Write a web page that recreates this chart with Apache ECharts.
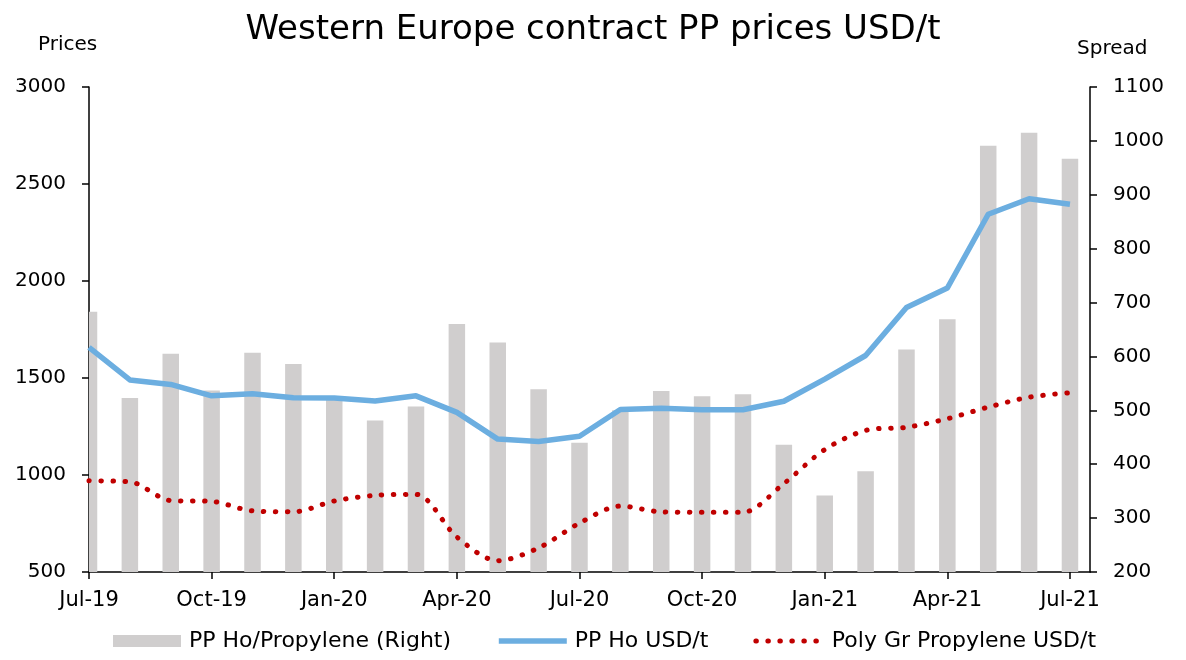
<!DOCTYPE html>
<html>
<head>
<meta charset="utf-8">
<script src="https://cdn.jsdelivr.net/npm/echarts@6/dist/echarts.min.js"></script>
<style>
  html, body { margin: 0; padding: 0; background: #fff; }
  #chart { width: 1186px; height: 660px; }
</style>
</head>
<body>
<div id="chart"></div>
<script>
  // monthly points, Jul-19 .. Jul-21
  var months = ['Jul-19', 'Aug-19', 'Sep-19', 'Oct-19', 'Nov-19', 'Dec-19', 'Jan-20', 'Feb-20', 'Mar-20',
    'Apr-20', 'May-20', 'Jun-20', 'Jul-20', 'Aug-20', 'Sep-20', 'Oct-20', 'Nov-20', 'Dec-20',
    'Jan-21', 'Feb-21', 'Mar-21', 'Apr-21', 'May-21', 'Jun-21', 'Jul-21']
  var tickMonths = [0, 3, 6, 9, 12, 15, 18, 21, 24]

  var spread = [683, 523, 605, 537, 607, 586, 520, 481, 507, 660, 626, 539, 440,
    500, 536, 526, 530, 436, 342, 387, 613, 669, 991, 1015, 967]
  var ppHo = [1658, 1490, 1467, 1408, 1419, 1398, 1397, 1381, 1408, 1323, 1185, 1173, 1200,
    1338, 1344, 1336, 1336, 1380, 1494, 1616, 1863, 1964, 2344, 2424, 2396]
  var propylene = [970, 965, 868, 864, 815, 810, 866, 895, 900, 680, 558, 624, 752,
    840, 810, 808, 808, 956, 1131, 1230, 1246, 1290, 1350, 1401, 1424]

  var leftTicks = { min: 500, max: 3000, interval: 500 }
  var rightTicks = { min: 200, max: 1100, interval: 100 }

  function pairs(arr) {
    return arr.map(function (v, i) { return [i, v] })
  }

  // bars are centred on the month, the first one is cut by the axis
  function renderBar(params, api) {
    var top = api.coord([api.value(0), api.value(1)])
    var base = api.coord([api.value(0), rightTicks.min])
    var w = 16.5
    var cs = params.coordSys
    var rect = echarts.graphic.clipRectByRect(
      { x: top[0] - w / 2, y: top[1], width: w, height: base[1] - top[1] },
      { x: cs.x, y: cs.y, width: cs.width, height: cs.height }
    )
    return rect && { type: 'rect', shape: rect, style: { fill: api.visual('color') } }
  }

  var font = 'DejaVu Sans'
  var plain = function (v) { return String(v) }
  var chart = echarts.init(document.getElementById('chart'))
  chart.setOption({
    backgroundColor: '#fff',
    animation: false,
    textStyle: { fontFamily: font, color: '#000' },
    title: {
      text: 'Western Europe contract PP prices USD/t',
      left: 'center',
      top: 8,
      textStyle: { fontFamily: font, fontSize: 34, fontWeight: 'normal', color: '#000' }
    },
    graphic: [
      { type: 'text', left: 38, top: 35, style: { text: 'Prices', font: '20px "DejaVu Sans"', fill: '#000' } },
      { type: 'text', left: 1077, top: 39, style: { text: 'Spread', font: '20px "DejaVu Sans"', fill: '#000' } }
    ],
    legend: {
      bottom: 3,
      left: 108,
      itemWidth: 68,
      itemHeight: 12,
      itemGap: 45,
      textStyle: { fontFamily: font, fontSize: 22, color: '#000', padding: [0, 0, 0, 3] },
      data: [
        { name: 'PP Ho/Propylene (Right)', icon: 'rect' },
        { name: 'PP Ho USD/t', lineStyle: { width: 5.5 }, itemStyle: { opacity: 0 } },
        { name: 'Poly Gr Propylene USD/t', lineStyle: { width: 5 }, itemStyle: { opacity: 0 } }
      ]
    },
    grid: { left: 89, right: 96, top: 87, bottom: 88 },
    xAxis: {
      type: 'value',
      min: 0,
      max: 24.49,
      interval: 3,
      splitLine: { show: false },
      axisLine: { lineStyle: { color: '#000', width: 1.5 } },
      axisTick: { length: 7, lineStyle: { color: '#000', width: 1.5 }, customValues: tickMonths },
      axisLabel: {
        customValues: tickMonths,
        fontSize: 21, color: '#000', margin: 18,
        formatter: function (v) { return months[Math.round(v)] || '' }
      }
    },
    yAxis: [
      {
        type: 'value',
        position: 'left',
        min: leftTicks.min, max: leftTicks.max, interval: leftTicks.interval,
        splitLine: { show: false },
        axisLine: { show: true, lineStyle: { color: '#000', width: 1.5 } },
        axisTick: { show: true, length: 7, lineStyle: { color: '#000', width: 1.5 } },
        axisLabel: { fontSize: 20, color: '#000', margin: 23, formatter: plain }
      },
      {
        type: 'value',
        position: 'right',
        min: rightTicks.min, max: rightTicks.max, interval: rightTicks.interval,
        splitLine: { show: false },
        axisLine: { show: true, lineStyle: { color: '#000', width: 1.5 } },
        axisTick: { show: true, length: 7, lineStyle: { color: '#000', width: 1.5 } },
        axisLabel: { fontSize: 20, color: '#000', margin: 23, formatter: plain }
      }
    ],
    series: [
      {
        name: 'PP Ho/Propylene (Right)',
        type: 'custom',
        yAxisIndex: 1,
        renderItem: renderBar,
        encode: { x: 0, y: 1 },
        itemStyle: { color: '#D0CECE' },
        data: pairs(spread)
      },
      {
        name: 'PP Ho USD/t',
        type: 'line',
        yAxisIndex: 0,
        symbol: 'none',
        lineStyle: { color: '#6CAEE0', width: 5.5, join: 'round' },
        itemStyle: { color: '#6CAEE0' },
        data: pairs(ppHo)
      },
      {
        name: 'Poly Gr Propylene USD/t',
        type: 'line',
        yAxisIndex: 0,
        symbol: 'none',
        smooth: 0.3,
        lineStyle: { color: '#C00000', width: 5, type: [0.5, 11.5], cap: 'round' },
        itemStyle: { color: '#C00000' },
        data: pairs(propylene)
      }
    ]
  })
</script>
</body>
</html>
